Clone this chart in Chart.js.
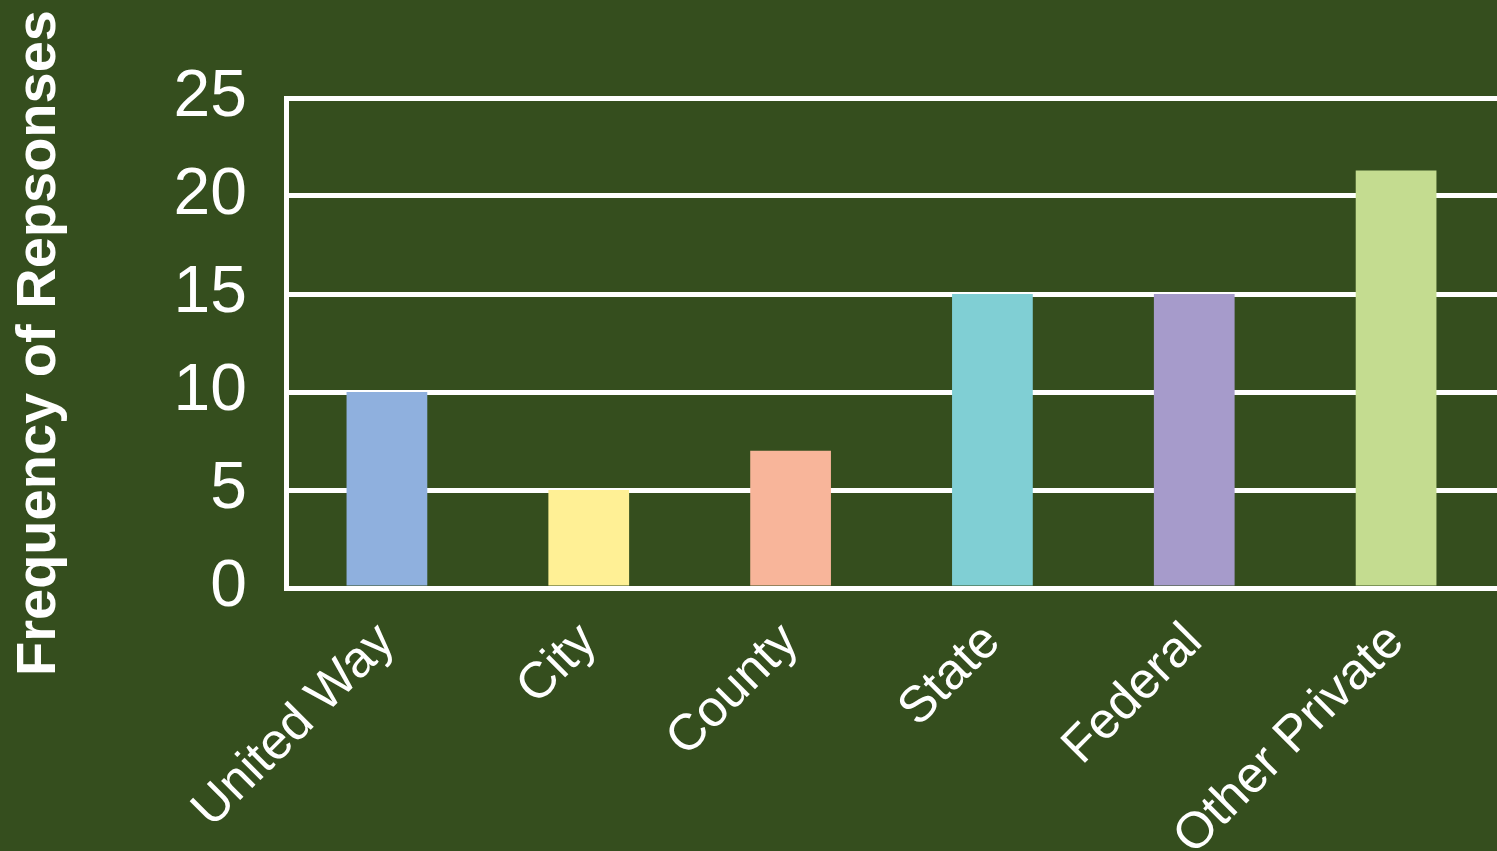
<!DOCTYPE html>
<html>
<head>
<meta charset="utf-8">
<title>Funding Sources</title>
<script src="https://cdn.jsdelivr.net/npm/chart.js@4"></script>
<style>
  html, body { margin: 0; padding: 0; background: #354e1e; overflow: hidden; }
  #wrap { width: 1497px; height: 851px; }
</style>
</head>
<body>
<div id="wrap"><canvas id="chart" width="1497" height="851"></canvas></div>
<script>
// Funding sources and how many responses named each one
const categories = ['United Way', 'City', 'County', 'State', 'Federal', 'Other Private'];
const responses = [10, 5, 7, 15, 15, 21.3];
const barColors = ['#8fb0de', '#fff095', '#f8b59a', '#80cfd4', '#a69bcb', '#c4dc90'];
const yTicks = [0, 5, 10, 15, 20, 25];

const BG = '#354e1e';
const INK = '#ffffff';
const FONT = "'Liberation Sans', Arial, sans-serif";

const background = {
  id: 'background',
  beforeDraw(chart) {
    const { ctx, width, height } = chart;
    ctx.save();
    ctx.fillStyle = BG;
    ctx.fillRect(0, 0, width, height);
    ctx.restore();
  }
};

new Chart(document.getElementById('chart'), {
  type: 'bar',
  data: {
    labels: categories,
    datasets: [{
      data: responses,
      backgroundColor: barColors,
      borderWidth: 0,
      categoryPercentage: 1,
      barPercentage: 0.4
    }]
  },
  options: {
    responsive: false,
    animation: false,
    layout: { padding: { top: 98, right: 0, bottom: 0, left: 0 } },
    plugins: {
      legend: { display: false },
      tooltip: { enabled: false }
    },
    scales: {
      x: {
        grid: { display: false },
        border: { display: false },
        ticks: {
          color: INK,
          font: { family: FONT, size: 51 },
          minRotation: 45,
          maxRotation: 45,
          padding: 16
        },
        afterFit(scale) { scale.height = 263; }
      },
      y: {
        min: 0,
        max: 25,
        afterBuildTicks(scale) { scale.ticks = yTicks.map(v => ({ value: v })); },
        grid: { color: INK, lineWidth: 5, drawTicks: false },
        border: { display: true, color: INK, width: 5 },
        ticks: {
          color: INK,
          font: { family: FONT, size: 66 },
          padding: 39
        },
        title: {
          display: true,
          text: 'Frequency of Repsonses',
          color: INK,
          font: { family: FONT, size: 56, weight: 'bold' },
          padding: { top: 6, bottom: 0 }
        },
        afterFit(scale) { scale.width = 286; }
      }
    }
  },
  plugins: [background]
});
</script>
</body>
</html>
